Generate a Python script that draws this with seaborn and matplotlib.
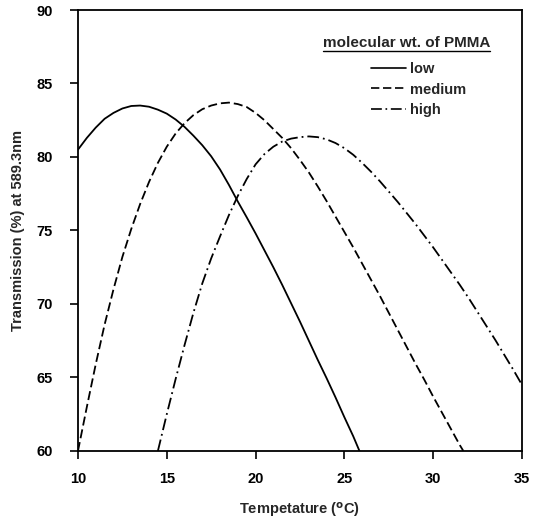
import numpy as np
import pandas as pd
import matplotlib
matplotlib.use("Agg")
import matplotlib.pyplot as plt
import seaborn as sns
from matplotlib.lines import Line2D

# ---- data ----
low_x = [10, 10.5, 11, 11.5, 12, 12.5, 13, 13.5, 14, 14.5, 15, 15.5, 16, 16.5, 17, 17.5,
         18, 18.5, 19, 19.5, 20, 20.5, 21, 21.5, 22, 22.5, 23, 23.5, 24, 24.5, 25, 25.5, 25.85]
low_y = [80.5, 81.3, 82.0, 82.6, 83.0, 83.3, 83.47, 83.5, 83.42, 83.22, 82.95, 82.55, 82.05,
         81.45, 80.8, 80.05, 79.15, 78.1, 76.97, 75.9, 74.8, 73.65, 72.5, 71.3, 70.05, 68.8,
         67.5, 66.2, 64.95, 63.65, 62.3, 61.0, 60.0]

med_x = [10, 10.5, 11, 11.5, 12, 12.5, 13, 13.5, 14, 14.5, 15, 15.5, 16, 16.5, 17, 17.5,
         18, 18.5, 19, 19.5, 20, 20.5, 21, 21.5, 22, 22.5, 23, 23.5, 24, 24.5, 25, 25.5,
         26, 26.5, 27, 27.5, 28, 28.5, 29, 29.5, 30, 30.5, 31, 31.5, 31.7]
med_y = [60.0, 63.0, 65.9, 68.6, 71.0, 73.2, 75.1, 76.8, 78.3, 79.6, 80.7, 81.6, 82.3,
         82.85, 83.25, 83.5, 83.65, 83.7, 83.6, 83.4, 83.0, 82.5, 81.9, 81.3, 80.6, 79.8,
         78.95, 78.0, 77.0, 75.95, 74.9, 73.85, 72.75, 71.65, 70.55, 69.4, 68.25, 67.1,
         65.95, 64.85, 63.7, 62.6, 61.5, 60.4, 60.0]

high_x = [14.5, 15, 15.5, 16, 16.5, 17, 17.5, 18, 18.5, 19, 19.5, 20, 20.5, 21, 21.5, 22,
          22.5, 23, 23.5, 24, 24.5, 25, 25.5, 26, 26.5, 27, 27.5, 28, 28.5, 29, 29.5, 30,
          30.5, 31, 31.5, 32, 32.5, 33, 33.5, 34, 34.5, 35]
high_y = [60.0, 62.5, 64.9, 67.2, 69.4, 71.4, 73.1, 74.6, 76.05, 77.35, 78.5, 79.5, 80.2,
          80.7, 81.05, 81.25, 81.35, 81.4, 81.35, 81.2, 80.95, 80.6, 80.15, 79.6, 79.0,
          78.35, 77.65, 76.95, 76.2, 75.45, 74.65, 73.85, 73.0, 72.15, 71.3, 70.4, 69.45,
          68.5, 67.55, 66.55, 65.55, 64.5]

groups = ["low", "medium", "high"]
x_ticks = [10, 15, 20, 25, 30, 35]
y_ticks = [60, 65, 70, 75, 80, 85, 90]

df = pd.concat([
    pd.DataFrame({"x": low_x, "y": low_y, "mw": "low"}),
    pd.DataFrame({"x": med_x, "y": med_y, "mw": "medium"}),
    pd.DataFrame({"x": high_x, "y": high_y, "mw": "high"}),
], ignore_index=True)

sns.set_style("ticks")
plt.rcParams['font.family'] = ['Liberation Sans', 'DejaVu Sans']
plt.rcParams['font.weight'] = 'bold'
plt.rcParams['mathtext.default'] = 'regular'

fig = plt.figure(figsize=(5.4, 5.21), dpi=100)
ax = fig.add_axes([0.1444, 0.1344, 0.8222, 0.8464])

sns.lineplot(data=df, x="x", y="y", style="mw", style_order=groups,
             dashes={"low": "", "medium": (5, 2.2), "high": (6.5, 2.2, 1, 2.2)},
             color="black", linewidth=1.3, estimator=None, sort=False, ax=ax)

ax.set_xlim(10, 35)
ax.set_ylim(60, 90)
ax.set_xticks(x_ticks)
ax.set_yticks(y_ticks)
ax.minorticks_off()
ax.tick_params(axis="both", which="major", direction="out", length=6, width=1.2,
               labelsize=10.5, colors="black")
ax.tick_params(axis="y", which="major", pad=12)
ax.tick_params(axis="x", which="major", pad=9)
for s in ax.spines.values():
    s.set_linewidth(1.3)
    s.set_color("black")

ax.set_xlabel("Tempetature ($^{\\mathbf{o}}$C)", fontsize=10.5, fontweight="bold", labelpad=10)
ax.set_ylabel("Transmission (%) at 589.3nm", fontsize=10.5, fontweight="bold", labelpad=8)

handles, labels = ax.get_legend_handles_labels()
leg = ax.legend(handles, labels, loc="upper left", bbox_to_anchor=(0.66, 0.882),
                frameon=False, handlelength=2.4, handletextpad=0.3,
                prop={"size": 10.5, "weight": "bold"}, labelspacing=0.45,
                borderpad=0, borderaxespad=0)
for h in leg.get_lines():
    h.set_linewidth(1.2)

t = ax.text(0.552, 0.925, "molecular wt. of PMMA", transform=ax.transAxes,
            fontsize=11, fontweight="bold", ha="left", va="center")
fig.canvas.draw()
bb = t.get_window_extent()
inv = ax.transAxes.inverted()
(x0, y0), (x1, y1) = inv.transform([(bb.x0, bb.y0), (bb.x1, bb.y0)])
ax.add_line(Line2D([x0, x1], [y0 - 0.002, y0 - 0.002], transform=ax.transAxes,
                   color="black", linewidth=1.0))

fig.savefig("out.png", dpi=100)
